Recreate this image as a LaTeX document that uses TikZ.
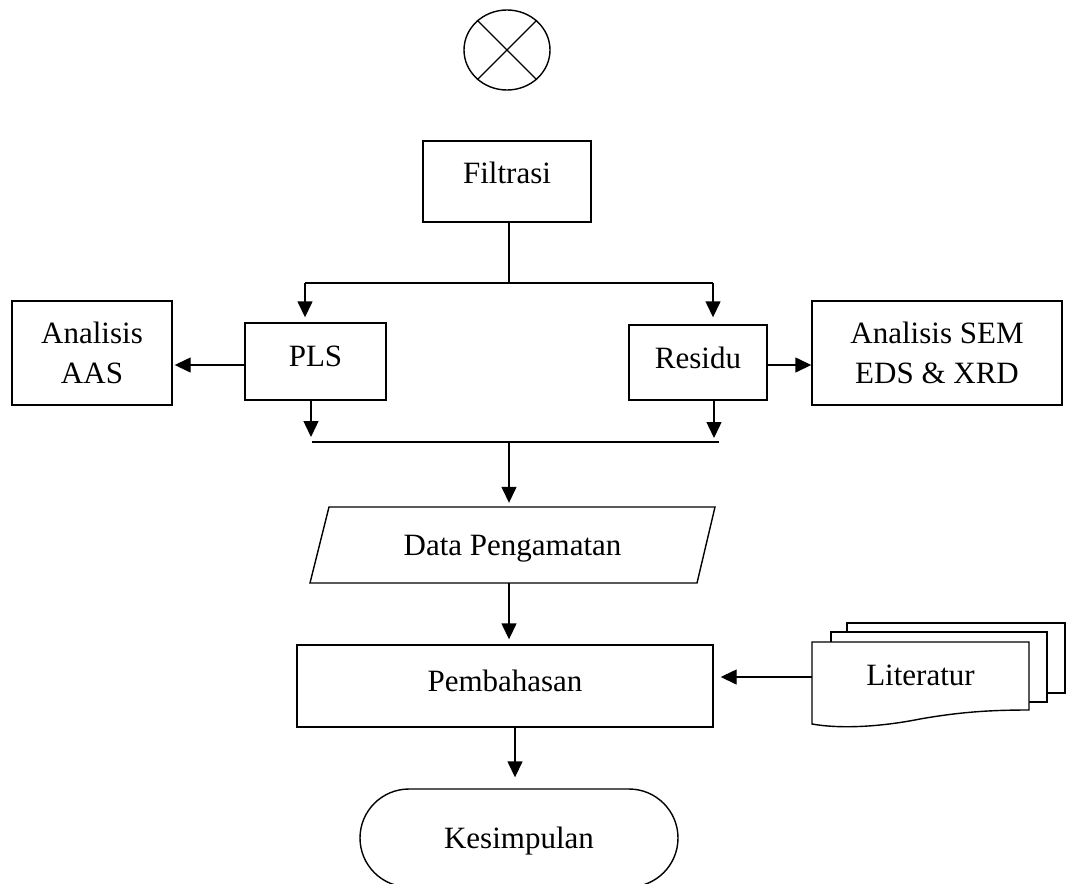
\documentclass[tikz,border=0pt]{standalone}
\usepackage{fontspec}
\setmainfont{Liberation Serif}
\usetikzlibrary{arrows.meta,shapes.misc,shapes.geometric}
\begin{document}
\begin{tikzpicture}[x=1pt,y=-1pt,
  every node/.style={font=\fontsize{31}{40}\selectfont,inner sep=0pt},
  ln/.style={line width=1.4pt},
  box/.style={draw,ln,rectangle},
  one/.style={text height=20.5pt,text depth=#1},
  one/.default=0pt,
  two/.style={align=center},
  arr/.style={ln,-{Triangle[length=16pt,width=15pt]}},
  paper/.style={draw,ln,fill=white},
]
\useasboundingbox (0,0) rectangle (1067,883);
\clip (0,0) rectangle (1067,883);

% off-page connector symbol
\node[draw,ln,ellipse,minimum width=86,minimum height=80] (conn) at (507,50) {};
\draw[ln] (conn.135) -- (conn.-45);
\draw[ln] (conn.45) -- (conn.-135);

% boxes
\node[box,one=17pt,minimum width=168,minimum height=81] (filt) at (507,181.5) {Filtrasi};
\node[box,one=11pt,minimum width=141,minimum height=77] (pls) at (315.5,361.5) {PLS};
\node[box,one=9pt,minimum width=138,minimum height=75] (res) at (698,362.5) {Residu};
\node[box,two,minimum width=160,minimum height=104] (aas) at (92,353) {Analisis\\AAS};
\node[box,two,minimum width=250,minimum height=104] (sem) at (937,353) {Analisis SEM\\EDS \& XRD};

% data (parallelogram)
\draw[ln] (329,507) -- (715,507) -- (697,583) -- (310,583) -- cycle;
\node[one,minimum width=380,minimum height=76] (data) at (512.5,545) {Data Pengamatan};

\node[box,one=10pt,minimum width=416,minimum height=82] (pemb) at (505,686) {Pembahasan};

% literatur (multi-document)
\draw[paper] (847,623) rectangle (1065,693);
\draw[paper] (831,632) rectangle (1047,702);
\draw[paper] (812,642) -- (1029,642) -- (1029,710)
  .. controls (990,710) and (960,712) .. (920,719)
  .. controls (880,727) and (840,729) .. (812,724) -- cycle;
\node[one=3pt,minimum width=217,minimum height=70] (lit) at (920.5,677) {Literatur};

% terminator
\node[draw,ln,rounded rectangle,one,minimum width=318,minimum height=98] (kes) at (519,838) {Kesimpulan};

% split after Filtrasi
\coordinate (t0) at (509,283);
\coordinate (tl) at (305,283);
\coordinate (tr) at (713,283);
\draw[ln] (filt.south -| t0) -- (t0);
\draw[ln] (tl) -- (tr);
\draw[arr,shorten >=5pt] (tl) -- (tl |- pls.north);
\draw[arr,shorten >=7pt] (tr) -- (tr |- res.north);

% side analyses
\coordinate (yl) at (0,365);
\draw[arr,shorten >=2pt] (pls.west |- yl) -- (aas.east |- yl);
\draw[arr] (res.east |- yl) -- (sem.west |- yl);

% merge
\coordinate (b0) at (509,442);
\coordinate (bl) at (312,442);
\coordinate (br) at (719,442);
\coordinate (pbx) at (311,442);
\coordinate (rbx) at (714,442);
\draw[ln] (bl) -- (br);
\draw[arr,shorten >=5pt] (pls.south -| pbx) -- (pbx);
\draw[arr,shorten >=4pt] (res.south -| rbx) -- (rbx);
\draw[arr,shorten >=4pt] (b0) -- (b0 |- data.north);

% lower chain
\draw[arr,shorten >=5pt] (data.south -| b0) -- (pemb.north -| b0);
\draw[arr,shorten >=7pt] (lit.west) -- (pemb.east |- lit.west);
\draw[arr,shorten >=11pt] ([xshift=10pt]pemb.south) -- ([xshift=-4pt]kes.north);
\end{tikzpicture}
\end{document}
